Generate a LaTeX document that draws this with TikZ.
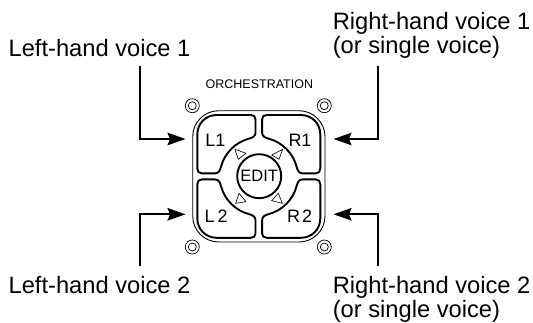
\documentclass[tikz,border=0pt]{standalone}
\usepackage{fontspec}
\setmainfont{Liberation Sans}
\usetikzlibrary{arrows.meta}
\tikzset{
  lbl/.style={inner sep=0pt,outer sep=0pt,anchor=base west,font=\fontsize{23.7}{24}\selectfont,align=left},
  key/.style={inner sep=0pt,outer sep=0pt,anchor=base west,font=\fontsize{18}{18}\selectfont},
  keyline/.style={line width=1.9pt,line join=round},
  pointer/.style={line width=2.1pt,-{Stealth[length=18pt,width=12.5pt,inset=2.5pt]}},
  tri/.style={line width=.6pt},
  screw/.style={line width=.7pt}
}
\begin{document}
\begin{tikzpicture}[x=1pt,y=-1pt]
\useasboundingbox (0,0) rectangle (533,322);
% panel outline
\draw[line width=.9pt,rounded corners=26pt] (192.7,110.7) rectangle (325,242);
\foreach \sx/\sy in {1/1,-1/1,1/-1,-1/-1}{
  \begin{scope}[shift={(258.8,176.4)},xscale=\sx,yscale=\sy]
  \draw[keyline] (-3.3,-44) -- (-3.3,-57) .. controls (-3.3,-60) and (-5,-61.4) .. (-8,-61.4)
    -- (-42,-61.4) .. controls (-53,-61.4) and (-61.5,-53) .. (-61.5,-42)
    -- (-61.5,-8) .. controls (-61.5,-5) and (-60,-3) .. (-57,-3)
    -- (-44,-3) .. controls (-40,-3) and (-38.8,-6) .. (-37.7,-10)
    .. controls (-34.1,-23.4) and (-23.4,-34.1) .. (-10,-37.7)
    .. controls (-6,-38.8) and (-3.3,-40) .. cycle;
  \end{scope}
}
\node[draw,circle,line width=1.9pt,minimum size=44pt,inner sep=0pt,font=\fontsize{16.5}{16.5}\selectfont] (edit) at (259.2,176.2) {EDIT};
\node[key] (l1) at (205.3,146.7) {L1};
\node[key] (r1) at (288.5,146.7) {R1};
\node[key] (l2) at (204.6,222) {L\kern 3pt 2};
\node[key] (r2) at (287.2,222) {R\kern 2pt 2};
\node[inner sep=0pt,anchor=base,font=\fontsize{12.5}{12.5}\selectfont] (orch) at (259.4,88) {ORCHESTRATION};
\foreach \x/\y in {192.3/105.7,324.3/105.7,192.3/247,324.3/247}{
  \draw[screw] (\x,\y) circle (7pt) circle (4pt);
}
\draw[tri] (235,149.3) -- (246,153.3) -- (238.3,159.3) -- cycle;
\draw[tri] (282.7,149.3) -- (271.7,155) -- (279,159.3) -- cycle;
\draw[tri] (235.7,203.3) -- (246,201.7) -- (239,193.3) -- cycle;
\draw[tri] (282.3,203.3) -- (271.7,200.7) -- (278.3,193.3) -- cycle;
% labels
\node[lbl] (lv1) at (8.6,56) {Left-hand voice 1};
\node[lbl] (rv1) at (332.8,53.3) {Right-hand voice 1\\(or single voice)};
\node[lbl] (lv2) at (8.6,293.7) {Left-hand voice 2};
\node[lbl] (rv2) at (332.8,317.7) {Right-hand voice 2\\(or single voice)};
% pointers
\coordinate (tl) at (185.5,139);
\coordinate (tr) at (333.5,139);
\coordinate (bl) at (185.5,214.3);
\coordinate (br) at (333.5,214.3);
\coordinate (tlfrom) at (140,66);
\coordinate (trfrom) at (378,66);
\coordinate (blfrom) at (140,266);
\coordinate (brfrom) at (378,266);
\draw[pointer] (tlfrom) |- (tl);
\draw[pointer] (trfrom) |- (tr);
\draw[pointer] (blfrom) |- (bl);
\draw[pointer] (brfrom) |- (br);
\end{tikzpicture}
\end{document}
